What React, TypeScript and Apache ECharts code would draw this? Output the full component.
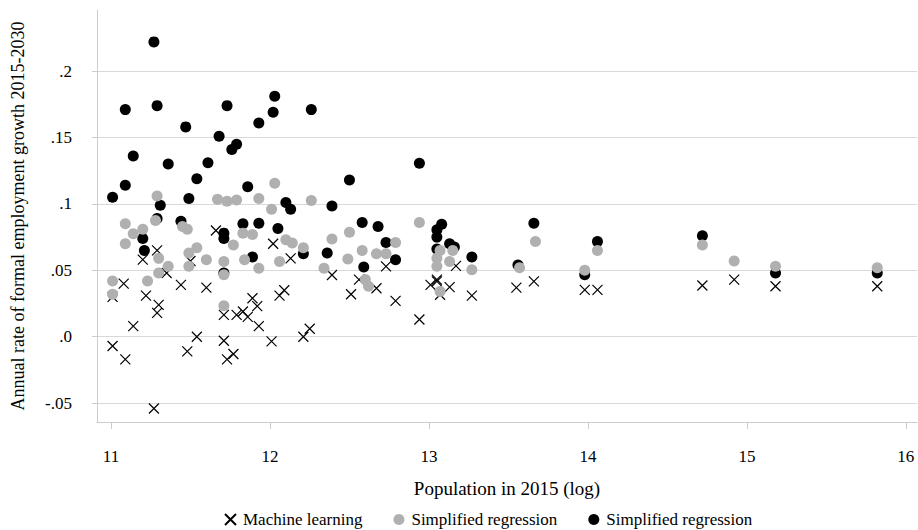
import React, { useEffect, useRef } from "react";
import * as echarts from "echarts";

// Population in 2015 (log) vs annual rate of formal employment growth 2015-2030
const machineLearning: [number, number][] = [
  [11.01, 0.030], [11.01, -0.007], [11.08, 0.040], [11.09, -0.017], [11.14, 0.008],
  [11.20, 0.058], [11.22, 0.031], [11.27, -0.054], [11.29, 0.065], [11.29, 0.018],
  [11.30, 0.024], [11.35, 0.048], [11.44, 0.039], [11.48, -0.011], [11.50, 0.057],
  [11.54, 0.000], [11.60, 0.037], [11.66, 0.080], [11.71, 0.0165], [11.71, -0.003],
  [11.73, -0.017], [11.77, -0.013], [11.79, 0.0165], [11.83, 0.019], [11.86, 0.015],
  [11.89, 0.029], [11.92, 0.023], [11.93, 0.008], [12.01, -0.0035], [12.02, 0.070],
  [12.06, 0.031], [12.09, 0.035], [12.13, 0.059], [12.21, 0.000], [12.25, 0.006],
  [12.39, 0.0465], [12.51, 0.032], [12.56, 0.043], [12.67, 0.0365], [12.73, 0.053],
  [12.79, 0.027], [12.94, 0.013], [13.01, 0.039], [13.05, 0.043], [13.05, 0.0417],
  [13.07, 0.0316], [13.13, 0.0373], [13.17, 0.0534], [13.27, 0.031], [13.55, 0.037],
  [13.66, 0.0417], [13.98, 0.0353], [14.06, 0.0353], [14.72, 0.0386], [14.92, 0.043],
  [15.18, 0.038], [15.82, 0.038],
];

const simplifiedGray: [number, number][] = [
  [11.01, 0.042], [11.01, 0.032], [11.09, 0.085], [11.09, 0.070], [11.14, 0.0775],
  [11.20, 0.081], [11.23, 0.042], [11.28, 0.0875], [11.29, 0.106], [11.30, 0.059],
  [11.30, 0.048], [11.36, 0.053], [11.45, 0.083], [11.48, 0.081], [11.49, 0.063],
  [11.49, 0.053], [11.54, 0.067], [11.60, 0.058], [11.67, 0.1035], [11.71, 0.0567],
  [11.71, 0.0466], [11.71, 0.0233], [11.73, 0.102], [11.77, 0.069], [11.79, 0.103],
  [11.83, 0.078], [11.84, 0.058], [11.89, 0.077], [11.93, 0.104], [11.93, 0.0515],
  [12.01, 0.096], [12.03, 0.1155], [12.06, 0.0567], [12.10, 0.073], [12.14, 0.0705],
  [12.21, 0.067], [12.26, 0.1025], [12.34, 0.0515], [12.39, 0.0735], [12.49, 0.0586],
  [12.50, 0.0787], [12.58, 0.065], [12.60, 0.043], [12.62, 0.038], [12.67, 0.0625],
  [12.73, 0.0625], [12.79, 0.071], [12.94, 0.086], [13.05, 0.059], [13.05, 0.053],
  [13.07, 0.065], [13.07, 0.034], [13.13, 0.0567], [13.15, 0.065], [13.27, 0.0504],
  [13.57, 0.052], [13.67, 0.0717], [13.98, 0.050], [14.06, 0.065], [14.72, 0.069],
  [14.92, 0.057], [15.18, 0.053], [15.82, 0.052],
];

const simplifiedBlack: [number, number][] = [
  [11.01, 0.105], [11.09, 0.114], [11.09, 0.171], [11.14, 0.136], [11.20, 0.074],
  [11.21, 0.065], [11.27, 0.222], [11.29, 0.174], [11.29, 0.089], [11.31, 0.099],
  [11.36, 0.130], [11.44, 0.087], [11.47, 0.158], [11.49, 0.104], [11.54, 0.119],
  [11.61, 0.131], [11.68, 0.151], [11.71, 0.078], [11.71, 0.074], [11.71, 0.048],
  [11.73, 0.174], [11.76, 0.141], [11.79, 0.145], [11.83, 0.085], [11.86, 0.113],
  [11.89, 0.060], [11.93, 0.161], [11.93, 0.0855], [12.02, 0.169], [12.03, 0.181],
  [12.05, 0.0815], [12.10, 0.101], [12.13, 0.096], [12.21, 0.0625], [12.26, 0.171],
  [12.36, 0.063], [12.39, 0.0985], [12.50, 0.118], [12.58, 0.086], [12.59, 0.0525],
  [12.68, 0.083], [12.73, 0.071], [12.79, 0.058], [12.94, 0.1306], [13.05, 0.066],
  [13.05, 0.075], [13.05, 0.0805], [13.08, 0.0847], [13.13, 0.070], [13.16, 0.0675],
  [13.27, 0.060], [13.56, 0.054], [13.66, 0.0855], [13.98, 0.0466], [14.06, 0.0717],
  [14.72, 0.076], [15.18, 0.048], [15.82, 0.048],
];

const xTicks = [11, 12, 13, 14, 15, 16];
const yTicks = [-0.05, 0, 0.05, 0.1, 0.15, 0.2];
const yTickLabels = ["-.05", ".0", ".05", ".1", ".15", ".2"];

const seriesNames = ["Machine learning", "Simplified regression", "Simplified regression "];

const FONT = "Liberation Serif";
const CROSS = "path://M0,0L10,10M10,0L0,10";

export default function App() {
  const ref = useRef<HTMLDivElement>(null);

  useEffect(() => {
    if (!ref.current) return;
    const chart = echarts.init(ref.current, undefined, { renderer: "svg" });
    chart.setOption({
      animation: false,
      backgroundColor: "#ffffff",
      textStyle: { fontFamily: FONT, color: "#000" },
      grid: { left: 97, right: 1, top: 10, bottom: 108, containLabel: false },
      legend: {
        left: 224,
        top: 511,
        padding: 0,
        itemWidth: 11,
        itemHeight: 11,
        itemGap: 31,
        data: [seriesNames[0], seriesNames[1], seriesNames[2]],
        formatter: (name: string) => name.trim(),
        textStyle: { fontFamily: FONT, fontSize: 17, color: "#000", lineHeight: 17, padding: [0, 0, 0, 2] },
      },
      xAxis: {
        type: "value",
        min: 10.912,
        max: 16.07,
        name: "Population in 2015 (log)",
        nameLocation: "middle",
        nameGap: 57,
        nameTextStyle: { fontFamily: FONT, fontSize: 19, color: "#000" },
        axisLine: { show: true, onZero: false, lineStyle: { color: "#cccccc", width: 1 } },
        axisTick: { show: true, length: 7, customValues: xTicks, lineStyle: { color: "#cccccc" } },
        axisLabel: {
          customValues: xTicks,
          margin: 26,
          fontFamily: FONT,
          fontSize: 17,
          color: "#000",
          formatter: (v: number) => String(Math.round(v)),
        },
        splitLine: { show: false },
      },
      yAxis: {
        type: "value",
        min: -0.0642,
        max: 0.246,
        name: "Annual rate of formal employment growth 2015-2030",
        nameLocation: "middle",
        nameGap: 70,
        nameTextStyle: { fontFamily: FONT, fontSize: 18, color: "#000" },
        axisLine: { show: true, onZero: false, lineStyle: { color: "#cccccc", width: 1 } },
        axisTick: { show: true, length: 5, customValues: yTicks, lineStyle: { color: "#cccccc" } },
        axisLabel: {
          customValues: yTicks,
          margin: 25,
          fontFamily: FONT,
          fontSize: 17,
          color: "#000",
          formatter: (v: number) => {
            const i = yTicks.findIndex((t) => Math.abs(t - v) < 1e-9);
            return i >= 0 ? yTickLabels[i] : "";
          },
        },
        splitLine: { show: true, lineStyle: { color: "#d9d9d9", width: 1 } },
      },
      series: [
        {
          name: seriesNames[0],
          type: "scatter",
          symbol: CROSS,
          symbolSize: 10,
          data: machineLearning,
          itemStyle: { color: "#000", borderColor: "#000", borderWidth: 1.2, opacity: 1 },
          z: 2,
        },
        {
          name: seriesNames[2],
          type: "scatter",
          symbol: "circle",
          symbolSize: 11,
          data: simplifiedBlack,
          itemStyle: { color: "#000", opacity: 1 },
          z: 3,
        },
        {
          name: seriesNames[1],
          type: "scatter",
          symbol: "circle",
          symbolSize: 11,
          data: simplifiedGray,
          itemStyle: { color: "#b0b0b0", opacity: 1 },
          z: 4,
        },
      ],
    });
    return () => chart.dispose();
  }, []);

  return (
    <div
      ref={ref}
      style={{ position: "absolute", left: 0, top: 0, width: 918, height: 530 }}
    />
  );
}
